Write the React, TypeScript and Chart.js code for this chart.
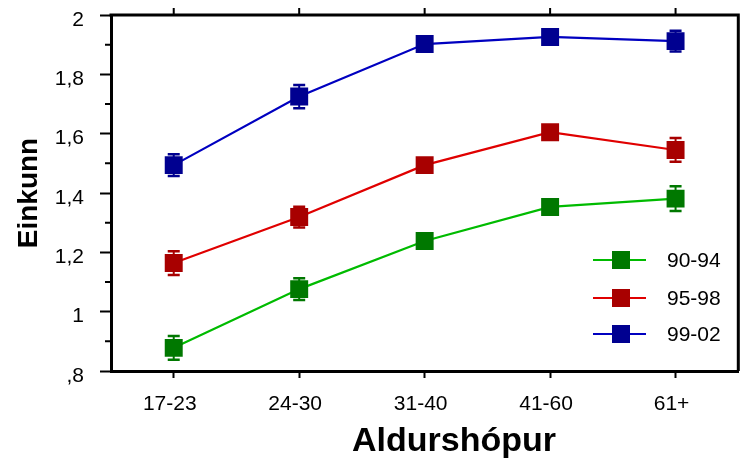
import React, { useEffect, useRef } from "react";
import { Chart, registerables } from "chart.js";

Chart.register(...registerables);

const categories = ["17-23", "24-30", "31-40", "41-60", "61+"];
const seriesLabels = ["90-94", "95-98", "99-02"];
const values9094 = [0.878, 1.076, 1.238, 1.353, 1.381];
const values9598 = [1.164, 1.319, 1.494, 1.605, 1.545];
const values9902 = [1.494, 1.725, 1.902, 1.926, 1.912];
const err9094 = [0.04, 0.037, 0.02, 0.02, 0.042];
const err9598 = [0.04, 0.035, 0.02, 0.02, 0.04];
const err9902 = [0.037, 0.039, 0.02, 0.02, 0.035];
const yMin = 0.8;
const yMax = 2.0;
const yStep = 0.2;
const minorTicks = [0.9, 1.1, 1.3, 1.5, 1.7, 1.9];
const xTitle = "Aldurshópur";
const yTitle = "Einkunn";

const lineColors = ["#00bb00", "#e00000", "#0000c0"];
const markerColors = ["#007800", "#a80000", "#000090"];

const FONT = "'Liberation Sans', Arial, sans-serif";

function fmt(v: number): string {
  const r = Math.round(v * 10) / 10;
  let s = String(r).replace(".", ",");
  if (s.startsWith("0,")) s = s.slice(1);
  return s;
}

export default function App() {
  const ref = useRef<HTMLCanvasElement | null>(null);
  useEffect(() => {
    document.body.style.margin = "0";
    const canvas = ref.current;
    if (!canvas) return;
    const errs = [err9094, err9598, err9902];

    const decorPlugin = {
      id: "decor",
      beforeDatasetsDraw(chart: any) {
        const ctx = chart.ctx;
        const y = chart.scales.y;
        chart.data.datasets.forEach((ds: any, i: number) => {
          const meta = chart.getDatasetMeta(i);
          ctx.save();
          ctx.strokeStyle = markerColors[i];
          meta.data.forEach((pt: any, j: number) => {
            const v = ds.data[j];
            const e = errs[i][j];
            const top = y.getPixelForValue(v + e);
            const bot = y.getPixelForValue(v - e);
            ctx.lineWidth = 2;
            ctx.beginPath();
            ctx.moveTo(pt.x, top);
            ctx.lineTo(pt.x, bot);
            ctx.stroke();
            ctx.lineWidth = 2.5;
            ctx.beginPath();
            ctx.moveTo(pt.x - 6, top);
            ctx.lineTo(pt.x + 6, top);
            ctx.moveTo(pt.x - 6, bot);
            ctx.lineTo(pt.x + 6, bot);
            ctx.stroke();
          });
          ctx.restore();
        });
      },
      afterDraw(chart: any) {
        const ctx = chart.ctx;
        const a = chart.chartArea;
        const x = chart.scales.x;
        const y = chart.scales.y;
        ctx.save();
        ctx.strokeStyle = "#000";
        ctx.lineWidth = 3;
        ctx.beginPath();
        ctx.moveTo(a.left - 1.5, a.top);
        ctx.lineTo(a.right, a.top);
        ctx.moveTo(a.right, a.top - 1.5);
        ctx.lineTo(a.right, a.bottom);
        ctx.stroke();
        ctx.lineWidth = 2;
        ctx.beginPath();
        categories.forEach((c, i) => {
          const px = x.getPixelForValue(i);
          ctx.moveTo(px, a.top);
          ctx.lineTo(px, a.top - 7);
        });
        minorTicks.forEach((v) => {
          const py = y.getPixelForValue(v);
          ctx.moveTo(a.left, py);
          ctx.lineTo(a.left - 6, py);
        });
        ctx.stroke();
        // x axis title
        ctx.fillStyle = "#000";
        ctx.font = "bold 34px " + FONT;
        ctx.textAlign = "center";
        ctx.textBaseline = "alphabetic";
        ctx.fillText(xTitle, 454, 451);
        // legend
        const lx = 593;
        const rows = [260, 298, 334];
        chart.data.datasets.forEach((ds: any, i: number) => {
          const ry = rows[i];
          ctx.strokeStyle = lineColors[i];
          ctx.lineWidth = 2;
          ctx.beginPath();
          ctx.moveTo(lx, ry);
          ctx.lineTo(lx + 53, ry);
          ctx.stroke();
          ctx.fillStyle = markerColors[i];
          ctx.fillRect(lx + 19, ry - 9, 18, 18);
          ctx.fillStyle = "#000";
          ctx.font = "21px " + FONT;
          ctx.textBaseline = "middle";
          ctx.textAlign = "left";
          ctx.fillText(ds.label, 667, ry + 1);
        });
        ctx.restore();
      },
    };

    const chart = new Chart(canvas, {
      type: "line",
      data: {
        labels: categories,
        datasets: [values9094, values9598, values9902].map((d, i) => ({
          label: seriesLabels[i],
          data: d,
          borderColor: lineColors[i],
          backgroundColor: markerColors[i],
          borderWidth: 2.2,
          pointStyle: "rect",
          pointRadius: 12.7,
          pointBorderWidth: 0,
          pointBackgroundColor: markerColors[i],
          pointBorderColor: markerColors[i],
          fill: false,
          tension: 0,
        })),
      },
      options: {
        animation: false,
        responsive: false,
        maintainAspectRatio: false,
        layout: { padding: { top: 15, right: 4, left: 0, bottom: 0 } },
        plugins: {
          legend: { display: false },
          tooltip: { enabled: false },
        },
        scales: {
          x: {
            type: "category",
            offset: true,
            grid: { drawOnChartArea: false, tickLength: 7, tickWidth: 2, tickColor: "#000" },
            border: { display: true, color: "#000", width: 3 },
            ticks: { color: "#000", font: { family: FONT, size: 21 }, padding: 14, maxRotation: 0, labelOffset: -4 },
            title: { display: false },
            afterFit(s: any) {
              s.height = 87;
              s.paddingLeft = 0;
              s.paddingRight = 0;
            },
          },
          y: {
            min: yMin,
            max: yMax,
            grid: { drawOnChartArea: false, tickLength: 11, tickWidth: 2, tickColor: "#000" },
            border: { display: true, color: "#000", width: 3 },
            ticks: {
              stepSize: yStep,
              color: "#000",
              font: { family: FONT, size: 21 },
              padding: 16,
              labelOffset: 5,
              callback: (v: any) => fmt(Number(v)),
            },
            title: {
              display: true,
              text: yTitle,
              color: "#000",
              font: { family: FONT, size: 28, weight: "bold" },
              padding: { top: 12, bottom: 0 },
            },
            afterFit(s: any) {
              s.width = 111;
              s.paddingTop = 0;
              s.paddingBottom = 0;
            },
          },
        },
      },
      plugins: [decorPlugin],
    } as any);
    return () => chart.destroy();
  }, []);
  return <canvas ref={ref} width={751} height={458} style={{ display: "block", width: 751, height: 458 }} />;
}
